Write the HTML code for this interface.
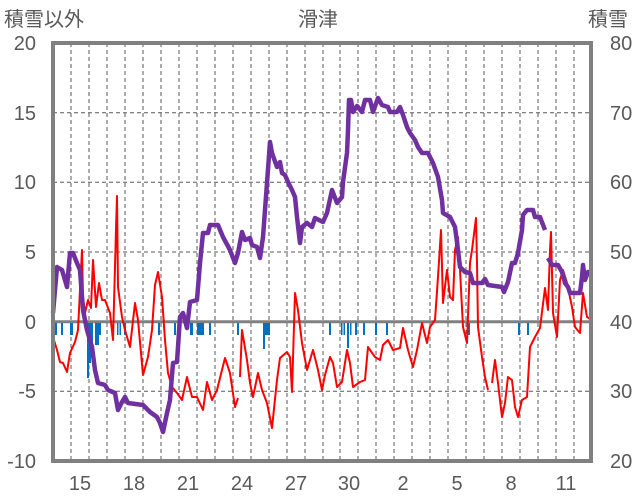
<!DOCTYPE html>
<html><head><meta charset="utf-8"><style>
html,body{margin:0;padding:0;background:#fff;}
svg{display:block;font-family:"Liberation Sans","Noto Sans CJK JP",sans-serif;}
</style></head><body>
<svg width="636" height="501" viewBox="0 0 636 501">
<rect width="636" height="501" fill="#fff"/>
<g stroke="#595959" stroke-width="1" stroke-dasharray="4,3" fill="none">
<path d="M53 112.7H591M53 182.3H591M53 252H591M53 391.3H591"/>
<path d="M71 43V461M89 43V461M107 43V461M125 43V461M143 43V461M161 43V461M179 43V461M197 43V461M215 43V461M233 43V461M251 43V461M269 43V461M287 43V461M305 43V461M323 43V461M340 43V461M358 43V461M376 43V461M394 43V461M412 43V461M430 43V461M448 43V461M466 43V461M484 43V461M502 43V461M520 43V461M538 43V461M556 43V461M574 43V461"/>
</g>
<line x1="53" y1="321.7" x2="591" y2="321.7" stroke="#808080" stroke-width="3"/>
<g fill="#0070c0">
<rect x="55" y="323" width="2" height="12"/><rect x="61" y="323" width="2" height="12"/><rect x="70" y="323" width="3" height="12"/>
<rect x="87" y="323" width="2" height="55"/><rect x="89" y="323" width="2" height="40"/><rect x="91" y="323" width="2" height="25"/>
<rect x="95" y="323" width="4" height="22"/><rect x="99" y="323" width="2" height="12"/>
<rect x="117" y="323" width="1.5" height="12"/><rect x="119.5" y="323" width="1.5" height="12"/><rect x="124" y="323" width="2" height="12"/>
<rect x="158" y="323" width="2" height="12"/><rect x="174" y="323" width="2" height="12"/><rect x="190" y="323" width="3" height="12"/>
<rect x="197" y="323" width="7" height="12"/><rect x="209" y="323" width="2" height="12"/><rect x="237" y="323" width="2" height="12"/>
<rect x="263" y="323" width="7" height="12"/><rect x="263" y="323" width="2" height="26"/>
<rect x="329" y="323" width="2" height="12"/><rect x="341" y="323" width="1.5" height="12"/><rect x="343.5" y="323" width="1.5" height="12"/>
<rect x="347" y="323" width="2" height="25"/><rect x="350" y="323" width="1.5" height="12"/><rect x="355" y="323" width="2" height="12"/>
<rect x="363" y="323" width="2" height="12"/><rect x="375" y="323" width="2" height="12"/><rect x="386" y="323" width="2" height="12"/>
<rect x="468" y="323" width="2" height="12"/><rect x="518" y="323" width="2" height="12"/><rect x="527" y="323" width="2" height="12"/>
</g>
<polyline fill="none" stroke="#ff0000" stroke-width="2" stroke-linejoin="round" points="53,337 57,350 60,362 63,363 67,372 70,353 75,342 78,330 82,250 83,297 85,313 88,300 91,308 93,260 96,307 99,283 102,300 105,300 110,313 113,340 116,230 117,196 118,287 122,317 125,330 130,347 135,303 138,320 143,375 148,357 152,330 155,285 158,272 162,297 165,340 168,373 172,387 177,393 182,400 187,377 192,397 197,397 203,410 207,382 212,400 217,390 225,358 230,373 235,407 238,398"/>
<polyline fill="none" stroke="#ff0000" stroke-width="2" stroke-linejoin="round" points="240,377 242,330 247,360 250,383 253,397 258,373 262,390 267,403 272,428 277,380 280,358 287,352 290,357 292,392 295,293 298,310 302,343 307,370 313,350 318,370 322,390 325,375 330,357 333,363 337,387 342,382 347,350 350,363 353,387 360,382 365,380 368,347 375,357 380,360 383,345 388,340 393,350 400,348 403,328 408,350 413,367 417,350 422,323 427,343 430,327 435,320 438,277 441,230 443,303 447,270 450,297 453,300 455,250 458,237 460,270 463,327 467,343 470,263 472,250 476,218 477,263 478,327 482,357 485,377 488,390"/>
<polyline fill="none" stroke="#ff0000" stroke-width="2" stroke-linejoin="round" points="492,383 495,360 498,383 502,417 505,403 508,377 512,380 515,407 518,417 522,400 527,397 530,347 535,337 540,328 545,288 548,310 550,250 551,232 553,313 557,337 560,280 563,270 567,283 572,307 575,327 580,333 583,293 587,317 592,320"/>
<polyline fill="none" stroke="#7030a0" stroke-width="4.5" stroke-linejoin="round" points="53,313 57,267 62,270 67,287 70,253 73,253 77,263 80,270 83,310 87,330 92,347 95,370 98,383 105,385 108,390 115,393 118,410 122,402 125,397 128,403 143,405 150,412 157,417 160,423 163,432 167,413 170,400 173,363 177,362 180,317 183,313 187,328 190,302 197,300 200,263 203,233 208,233 210,225 218,225 223,237 230,250 235,263 238,253 242,232 245,240 250,238 252,245 257,247 260,258 263,237 267,183 270,142 272,153 277,167 280,162 282,173 285,175 288,182 292,190 295,197 297,217 300,243 302,227 307,223 312,227 315,218 323,222 327,213 332,190 337,203 342,197 343,182 347,153 348,130 349,100 351,100 353,112 357,106 362,112 365,100 370,100 373,112 378,98 382,105 388,107 390,112 397,112 400,107 403,115 407,127 410,133 415,140 418,147 422,153 428,153 433,163 438,177 442,200 443,213 450,217 455,227 458,250 460,267 465,272 470,273 473,283 482,283 485,279 488,285 502,287 504,292 508,282 512,263 515,263 518,253 522,230 523,215 527,210 533,210 535,217 540,217 545,230"/>
<polyline fill="none" stroke="#7030a0" stroke-width="4.5" stroke-linejoin="round" points="548,258 552,265 558,265 562,272 565,283 568,287 570,293 580,293 582,277 583,265 585,280 588,272 591,272"/>
<rect x="53" y="43" width="538" height="418" fill="none" stroke="#808080" stroke-width="4"/>
<g fill="#595959" font-size="20">
<g text-anchor="end"><text x="36" y="50">20</text><text x="36" y="120">15</text><text x="36" y="189">10</text><text x="36" y="259">5</text><text x="36" y="329">0</text><text x="36" y="398">-5</text><text x="36" y="468">-10</text></g>
<g text-anchor="start"><text x="610" y="50">80</text><text x="610" y="120">70</text><text x="610" y="189">60</text><text x="610" y="259">50</text><text x="610" y="329">40</text><text x="610" y="398">30</text><text x="610" y="468">20</text></g>
<g text-anchor="middle"><text x="80" y="490">15</text><text x="134" y="490">18</text><text x="188" y="490">21</text><text x="242" y="490">24</text><text x="296" y="490">27</text><text x="349" y="490">30</text><text x="403" y="490">2</text><text x="457" y="490">5</text><text x="511" y="490">8</text><text x="566" y="490">11</text></g>
<g font-size="20"><text x="4" y="26">積雪以外</text><text x="318" y="26" text-anchor="middle">滑津</text><text x="588" y="26">積雪</text></g>
</g>
</svg>
</body></html>
